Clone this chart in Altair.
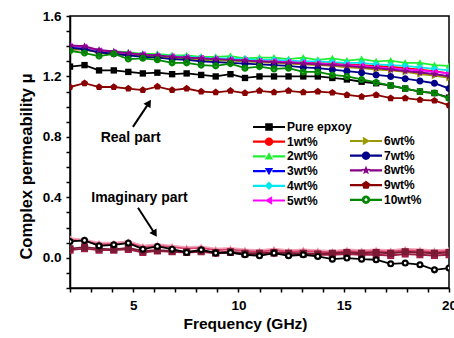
import math
import altair as alt
import pandas as pd

FONT = "Liberation Sans"

freq = [2.00, 2.69, 3.38, 4.08, 4.77, 5.46, 6.15, 6.85, 7.54, 8.23, 8.92, 9.62, 10.31,
        11.00, 11.69, 12.38, 13.08, 13.77, 14.46, 15.15, 15.85, 16.54, 17.23, 17.92,
        18.62, 19.31, 20.00]

series = ["Pure epxoy", "1wt%", "2wt%", "3wt%", "4wt%", "5wt%",
          "6wt%", "7wt%", "8wt%", "9wt%", "10wt%"]
colors = ["#000000", "#ff0000", "#22ee33", "#0000ff", "#00e8f0", "#ff00ff",
          "#9a9a00", "#000088", "#880088", "#880000", "#008800"]

real_pure = [1.265, 1.275, 1.24, 1.24, 1.23, 1.22, 1.225, 1.215, 1.22, 1.21, 1.20, 1.215, 1.19,
             1.20, 1.20, 1.20, 1.20, 1.20, 1.19, 1.18, 1.165, 1.155, 1.14, 1.12, 1.10, 1.09, 1.06]
real_1 = [1.38, 1.38, 1.36, 1.35, 1.345, 1.34, 1.335, 1.33, 1.325, 1.32, 1.315, 1.315, 1.31,
          1.305, 1.30, 1.30, 1.295, 1.29, 1.285, 1.28, 1.275, 1.27, 1.265, 1.255, 1.245, 1.235, 1.22]
real_2 = [1.38, 1.39, 1.37, 1.365, 1.36, 1.35, 1.35, 1.34, 1.34, 1.33, 1.33, 1.335, 1.32,
          1.325, 1.325, 1.315, 1.325, 1.31, 1.32, 1.305, 1.315, 1.30, 1.305, 1.29, 1.29, 1.275, 1.27]
real_3 = [1.39, 1.385, 1.365, 1.355, 1.345, 1.34, 1.33, 1.325, 1.32, 1.315, 1.31, 1.31, 1.30,
          1.30, 1.295, 1.29, 1.285, 1.28, 1.275, 1.27, 1.26, 1.255, 1.245, 1.235, 1.225, 1.215, 1.20]
real_4 = [1.39, 1.385, 1.37, 1.36, 1.35, 1.345, 1.34, 1.335, 1.33, 1.325, 1.32, 1.32, 1.315,
          1.31, 1.31, 1.305, 1.30, 1.30, 1.295, 1.29, 1.29, 1.28, 1.275, 1.27, 1.26, 1.25, 1.24]
real_5 = [1.40, 1.395, 1.37, 1.36, 1.35, 1.345, 1.335, 1.33, 1.325, 1.32, 1.315, 1.31, 1.305,
          1.30, 1.30, 1.295, 1.29, 1.285, 1.28, 1.275, 1.27, 1.26, 1.255, 1.245, 1.24, 1.23, 1.22]
real_6 = [1.38, 1.38, 1.36, 1.35, 1.34, 1.335, 1.33, 1.32, 1.315, 1.31, 1.305, 1.305, 1.30,
          1.295, 1.29, 1.285, 1.28, 1.275, 1.27, 1.26, 1.255, 1.245, 1.24, 1.23, 1.215, 1.205, 1.19]
real_7 = [1.39, 1.38, 1.36, 1.35, 1.34, 1.33, 1.325, 1.315, 1.31, 1.30, 1.295, 1.29, 1.285,
          1.28, 1.275, 1.27, 1.26, 1.255, 1.245, 1.235, 1.225, 1.21, 1.20, 1.185, 1.17, 1.155, 1.12]
real_8 = [1.405, 1.40, 1.375, 1.365, 1.355, 1.345, 1.34, 1.33, 1.325, 1.32, 1.315, 1.31, 1.305,
          1.30, 1.295, 1.29, 1.285, 1.28, 1.275, 1.27, 1.26, 1.255, 1.245, 1.235, 1.225, 1.215, 1.20]
real_9 = [1.13, 1.155, 1.13, 1.13, 1.12, 1.11, 1.133, 1.11, 1.12, 1.10, 1.095, 1.105, 1.09,
          1.105, 1.095, 1.105, 1.095, 1.10, 1.093, 1.078, 1.066, 1.078, 1.056, 1.056, 1.045, 1.04, 1.01]
real_10 = [1.37, 1.355, 1.335, 1.35, 1.315, 1.32, 1.31, 1.29, 1.29, 1.275, 1.27, 1.285, 1.255,
           1.265, 1.25, 1.255, 1.23, 1.23, 1.21, 1.20, 1.18, 1.16, 1.14, 1.12, 1.10, 1.09, 1.055]
real_values = [real_pure, real_1, real_2, real_3, real_4, real_5,
               real_6, real_7, real_8, real_9, real_10]

# imaginary part traces (as they appear in the figure)
imag_names = ["im_pink", "im_red", "im_maroon", "im_wine", "im_black"]
imag_colors = ["#f2a4b8", "#d8406a", "#a01e46", "#7a1a34", "#000000"]
imag_pink = [0.13, 0.12, 0.10, 0.10, 0.11, 0.08, 0.09, 0.08, 0.07, 0.075, 0.06, 0.065, 0.055,
             0.05, 0.06, 0.05, 0.055, 0.05, 0.045, 0.055, 0.05, 0.055, 0.05, 0.06, 0.055, 0.05, 0.055]
imag_red = [0.12, 0.11, 0.09, 0.09, 0.10, 0.07, 0.08, 0.07, 0.06, 0.065, 0.05, 0.055, 0.045,
            0.04, 0.05, 0.04, 0.045, 0.04, 0.035, 0.045, 0.04, 0.045, 0.04, 0.05, 0.045, 0.04, 0.045]
imag_maroon = [0.05, 0.06, 0.05, 0.05, 0.055, 0.035, 0.045, 0.04, 0.035, 0.04, 0.03, 0.035, 0.025,
               0.025, 0.03, 0.025, 0.025, 0.02, 0.02, 0.025, 0.02, 0.02, 0.015, 0.025, 0.02, 0.015, 0.02]
imag_wine = [0.06, 0.07, 0.06, 0.055, 0.065, 0.045, 0.05, 0.045, 0.04, 0.045, 0.035, 0.04, 0.03,
             0.03, 0.035, 0.03, 0.03, 0.025, 0.03, 0.035, 0.03, 0.035, 0.03, 0.04, 0.035, 0.03, 0.035]
imag_black = [0.108, 0.115, 0.079, 0.086, 0.097, 0.057, 0.075, 0.057, 0.035, 0.053, 0.031, 0.035, 0.02,
              0.013, 0.031, 0.013, 0.02, 0.009, -0.009, -0.002, -0.009, -0.013, -0.04, -0.035,
              -0.046, -0.08, -0.068]
imag_values = [imag_pink, imag_red, imag_maroon, imag_wine, imag_black]

x_ticks = list(range(2, 21))
y_ticks = [-0.2, -0.1, 0.0, 0.1, 0.2, 0.3, 0.4, 0.5, 0.6, 0.7, 0.8, 0.9,
           1.0, 1.1, 1.2, 1.3, 1.4, 1.5, 1.6]

ann_text = ["Real part", "Imaginary part"]
ann_x = [4.88, 5.30]
ann_y = [0.793, 0.397]
arrow_x = [4.99, 5.23]
arrow_y = [0.866, 0.331]
arrow_x2 = [5.75, 6.03]
arrow_y2 = [1.025, 0.159]
arrow_angle = [33, 148]

# ---------- marker geometry ----------
def poly(pts):
    return "M" + " L".join(f"{x:.3f},{y:.3f}" for x, y in pts) + " Z"

def circle_path(r, sweep=1):
    return f"M{-r:.3f},0 A{r:.3f},{r:.3f} 0 1,{sweep} {r:.3f},0 A{r:.3f},{r:.3f} 0 1,{sweep} {-r:.3f},0 Z"

def star_path(r):
    pts = []
    for i in range(10):
        a = -math.pi / 2 + i * math.pi / 5
        rr = r if i % 2 == 0 else r * 0.42
        pts.append((rr * math.cos(a), rr * math.sin(a)))
    return poly(pts)

def pent_path(r):
    return poly([(r * math.cos(-math.pi / 2 + i * 2 * math.pi / 5),
                  r * math.sin(-math.pi / 2 + i * 2 * math.pi / 5)) for i in range(5)])

def marker(kind, r):
    if kind == "square":
        return poly([(-r * 0.9, -r * 0.9), (r * 0.9, -r * 0.9), (r * 0.9, r * 0.9), (-r * 0.9, r * 0.9)])
    if kind == "circle":
        return circle_path(r)
    if kind == "tup":
        return poly([(0, -r), (r, r * 0.75), (-r, r * 0.75)])
    if kind == "tdown":
        return poly([(0, r), (-r, -r * 0.75), (r, -r * 0.75)])
    if kind == "diamond":
        return poly([(0, -r), (r, 0), (0, r), (-r, 0)])
    if kind == "tleft":
        return poly([(-r, 0), (r * 0.75, -r), (r * 0.75, r)])
    if kind == "tright":
        return poly([(r, 0), (-r * 0.75, r), (-r * 0.75, -r)])
    if kind == "star":
        return star_path(r * 1.15)
    if kind == "pent":
        return pent_path(r * 1.05)
    if kind == "ring":
        return circle_path(r) + " " + circle_path(r * 0.35, 0)
    return circle_path(r)

kinds = ["square", "circle", "tup", "tdown", "diamond", "tleft",
         "tright", "circle", "star", "pent", "ring"]

# legend symbol: nominal box 12 px (unit = 6 px); line spans +-16 px
LEG_UNIT = 6.0
def legend_symbol(kind):
    half = 16.0 / LEG_UNIT
    r = 4.2 / LEG_UNIT
    t = 1.1 / LEG_UNIT
    line = (poly([(-half, -t), (-r * 0.8, -t), (-r * 0.8, t), (-half, t)]) + " " +
            poly([(r * 0.8, -t), (half, -t), (half, t), (r * 0.8, t)]))
    return line + " " + marker(kind, r)

plot_shape = [marker(k, 1.0) for k in kinds]
legend_shape = [legend_symbol(k) for k in kinds]

# ---------- data tables ----------
real_rows = []
for s, vals in zip(series, real_values):
    for f, v in zip(freq, vals):
        real_rows.append({"freq": f, "value": v, "series": s})
real_df = pd.DataFrame(real_rows)

imag_rows = []
for s, vals in zip(imag_names, imag_values):
    for f, v in zip(freq, vals):
        imag_rows.append({"freq": f, "value": v, "series": s})
imag_df = pd.DataFrame(imag_rows)

ann_df = pd.DataFrame({"freq": ann_x, "value": ann_y, "text": ann_text})
arrow_df = pd.DataFrame({"freq": arrow_x, "value": arrow_y, "freq2": arrow_x2,
                         "value2": arrow_y2})
head_df = pd.DataFrame({"freq": arrow_x2, "value": arrow_y2, "angle": arrow_angle})

# ---------- encodings ----------
x_enc = alt.X("freq:Q",
              scale=alt.Scale(domain=[2, 20], nice=False, zero=False),
              axis=alt.Axis(title="Frequency (GHz)", values=x_ticks,
                            labelExpr="datum.value % 5 == 0 ? datum.label : ''",
                            labelOverlap=False, labelBound=False, labelFlush=False,
                            grid=False, tickSize=4, tickWidth=1.5, tickColor="black",
                            domainColor="black", domainWidth=1.5,
                            labelFont=FONT, labelFontSize=13.5, labelFontWeight="bold",
                            labelColor="black", labelPadding=6,
                            titleFont=FONT, titleFontSize=15.5, titleFontWeight="bold",
                            titleColor="black", titlePadding=5, titleX=175))
y_enc = alt.Y("value:Q",
              scale=alt.Scale(domain=[-0.2, 1.6], nice=False, zero=False),
              axis=alt.Axis(title="Complex permeability μ", values=y_ticks, format=".1f",
                            labelExpr="(abs(round(datum.value*10)) % 4 == 0) && (datum.value > -0.05) ? datum.label : ''",
                            labelOverlap=False, labelBound=False, labelFlush=False,
                            grid=False, tickSize=4, tickWidth=1.5, tickColor="black",
                            domainColor="black", domainWidth=1.5,
                            labelFont=FONT, labelFontSize=13.5, labelFontWeight="bold",
                            labelColor="black", labelPadding=5,
                            titleFont=FONT, titleFontSize=16.5, titleFontWeight="bold",
                            titleColor="black", titlePadding=8, titleY=150))

layers = []
# imaginary part (drawn first)
for name, col in zip(imag_names, imag_colors):
    base = alt.Chart(imag_df).transform_filter(alt.datum.series == name)
    shp = "circle" if name == "im_black" else ("triangle-up" if name in ("im_pink", "im_red") else "square")
    layers.append(base.mark_line(color=col, strokeWidth=1.8, clip=True).encode(x=x_enc, y=y_enc))
    layers.append(base.mark_point(color=col, filled=True, opacity=1, size=50, shape=shp,
                                  clip=True).encode(x=x_enc, y=y_enc))
    if name == "im_black":
        layers.append(base.mark_point(color="white", filled=True, opacity=1, size=7,
                                      clip=True).encode(x=x_enc, y=y_enc))

# real part
for s, col, shp in zip(series, colors, plot_shape):
    base = alt.Chart(real_df).transform_filter(alt.datum.series == s)
    layers.append(base.mark_line(color=col, strokeWidth=1.8, clip=True).encode(x=x_enc, y=y_enc))
    layers.append(base.mark_point(color=col, filled=True, opacity=1, size=50, shape=shp,
                                  clip=True).encode(x=x_enc, y=y_enc))

# legends (from invisible points)
def legend_layer(names, lx, ly):
    idx = [series.index(n) for n in names]
    leg = alt.Legend(title=None, orient="none", legendX=lx, legendY=ly,
                     labelFont=FONT, labelFontSize=12, labelFontWeight="bold",
                     labelColor="black", symbolSize=LEG_UNIT * LEG_UNIT * 4,
                     symbolStrokeWidth=0, symbolOpacity=1, rowPadding=2.7,
                     labelOffset=12, padding=0)
    return (alt.Chart(real_df)
            .transform_filter(alt.FieldOneOfPredicate(field="series", oneOf=names))
            .mark_point(filled=True, opacity=0, clip=True)
            .encode(x=x_enc, y=y_enc,
                    color=alt.Color("series:N", legend=leg,
                                    scale=alt.Scale(domain=names, range=[colors[i] for i in idx])),
                    shape=alt.Shape("series:N", legend=leg,
                                    scale=alt.Scale(domain=names, range=[legend_shape[i] for i in idx]))))

layers.append(legend_layer(series[:6], 193, 105))
layers.append(legend_layer(series[6:], 290, 119))

# annotations
layers.append(alt.Chart(ann_df).mark_text(font=FONT, fontSize=14, fontWeight="bold",
                                          color="black").encode(x=x_enc, y=y_enc, text="text:N"))
layers.append(alt.Chart(arrow_df).mark_rule(color="black", strokeWidth=2).encode(
    x=x_enc, y=y_enc, x2="freq2:Q", y2="value2:Q"))
layers.append(alt.Chart(head_df).mark_point(shape="triangle-up", filled=True, color="black",
                                            opacity=1, size=70).encode(
    x=x_enc, y=y_enc, angle=alt.Angle("angle:Q", scale=None)))

chart = (alt.layer(*layers)
         .resolve_scale(color="independent", shape="independent")
         .properties(width=379, height=272,
                     padding={"left": 70, "top": 16, "right": 5, "bottom": 50},
                     autosize=alt.AutoSizeParams(type="none"),
                     background="white")
         .configure_view(stroke="black", strokeWidth=1.5))

chart.save("out.html", embed_options={"renderer": "svg", "actions": False})
